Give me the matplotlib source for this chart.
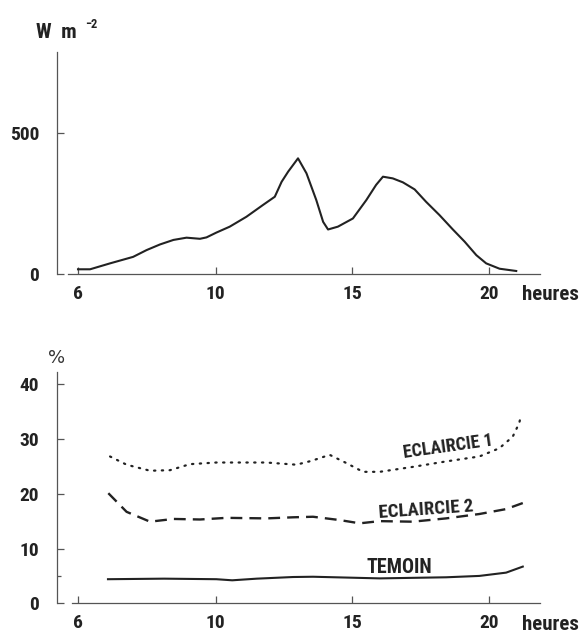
import matplotlib
matplotlib.use("Agg")
import matplotlib.pyplot as plt
import numpy as np

# --- data ----------------------------------------------------------------
# global radiation (W m-2) versus hour
rad_hours = [6.0, 6.35, 6.93, 7.6, 7.99, 8.38, 8.77, 9.15, 9.54, 9.73, 10.02,
             10.51, 11.12, 11.73, 12.16, 12.41, 12.65, 13.01, 13.32, 13.68,
             13.93, 14.11, 14.47, 15.02, 15.51, 15.87, 16.12, 16.48, 16.85,
             17.28, 17.7, 18.19, 18.68, 19.11, 19.54, 19.9, 20.39, 21.0]
rad_values = [17, 17, 38, 61, 85, 105, 121, 129, 125, 130, 147,
              168, 203, 245, 274, 327, 363, 410, 357, 262,
              185, 158, 168, 197, 262, 316, 345, 339, 325,
              300, 256, 209, 158, 115, 67, 38, 19, 11]

# transmitted fraction (%) for the three plots
ecl1_hours = [6.93, 7.41, 8.09, 8.67, 9.25, 10.02, 11.85, 12.95, 13.5, 14.17,
              14.78, 15.39, 16.0, 17.21, 18.43, 19.65, 20.38, 20.87, 21.11, 21.17]
ecl1_values = [26.8, 25.3, 24.2, 24.3, 25.4, 25.7, 25.7, 25.3, 26.0, 27.1,
               25.6, 24.0, 24.0, 24.9, 25.9, 26.8, 28.3, 30.4, 32.9, 34.2]

ecl2_hours = [6.88, 7.41, 8.09, 8.77, 9.54, 10.39, 11.85, 12.83, 13.56, 14.53,
              15.27, 16.0, 17.21, 18.43, 19.65, 20.63, 21.24]
ecl2_values = [20.1, 16.7, 14.9, 15.4, 15.3, 15.6, 15.5, 15.7, 15.8, 15.2,
               14.6, 15.0, 14.9, 15.5, 16.3, 17.2, 18.3]

tem_hours = [6.87, 8.5, 10.02, 10.6, 11.5, 12.83, 13.56, 16.0, 18.43, 19.65,
             20.63, 21.24]
tem_values = [4.4, 4.5, 4.4, 4.2, 4.5, 4.8, 4.85, 4.55, 4.75, 5.0, 5.6, 6.7]

hour_ticks = [6, 10, 15, 20]
rad_ticks = [0, 500]
pct_ticks = [0, 10, 20, 30, 40]

# the printed time axis is stretched before 10 h
K = 1.2614


def fwd(x):
    x = np.asarray(x, dtype=float)
    return np.where(x < 10, 10 - (10 - x) * K, x)


def inv(y):
    y = np.asarray(y, dtype=float)
    return np.where(y < 10, 10 - (10 - y) / K, y)


FONT = ["Roboto Condensed", "DejaVu Sans"]
WEIGHT = 800
AX_COL = "#555555"
INK = "#222222"

fig = plt.figure(figsize=(5.81, 6.33), dpi=100)
ax1 = fig.add_axes([0.0981, 0.567, 0.8313, 0.351])
ax2 = fig.add_axes([0.0981, 0.0469, 0.8313, 0.3661])


def style(ax, xstart):
    ax.set_xscale("function", functions=(fwd, inv))
    ax.set_xlim(5.39, 21.87)
    for s in ("top", "right"):
        ax.spines[s].set_visible(False)
    for s in ("left", "bottom"):
        ax.spines[s].set_color(AX_COL)
        ax.spines[s].set_linewidth(0.9)
    ax.spines["bottom"].set_bounds(xstart, 21.87)
    ax.set_xticks(hour_ticks)
    ax.set_xticklabels([str(h) for h in hour_ticks])
    ax.xaxis.set_minor_locator(matplotlib.ticker.NullLocator())
    ax.tick_params(axis="both", direction="in", color=AX_COL, width=0.9,
                   length=5, labelcolor=INK)
    ax.tick_params(axis="x", pad=8)
    ax.tick_params(axis="y", pad=13)
    for lab in ax.get_xticklabels() + ax.get_yticklabels():
        lab.set_fontfamily(FONT)
        lab.set_fontweight(WEIGHT)
        lab.set_fontsize(14)


# --- upper panel: radiation ---
ax1.plot(rad_hours, rad_values, color=INK, lw=1.5)
ax1.set_ylim(0, 787)
ax1.set_yticks(rad_ticks)
ax1.set_yticklabels([str(v) for v in rad_ticks])
style(ax1, 5.71)
fig.text(36 / 581, 1 - 33 / 633, "W  m", fontfamily=FONT, fontweight=WEIGHT,
         fontsize=15, va="center", ha="left", color=INK)
fig.text(85 / 581, 1 - 24 / 633, "\u22122", fontfamily=FONT,
         fontweight=WEIGHT, fontsize=9, va="center", ha="left", color=INK)
fig.text(522 / 581, 1 - 294 / 633, "heures", fontfamily=FONT,
         fontweight=WEIGHT, fontsize=15, va="center", ha="left", color=INK)

# --- lower panel: percentages ---
ax2.plot(ecl1_hours, ecl1_values, color=INK, lw=1.6,
         linestyle=(0, (0.6, 2.9)), dash_capstyle="round")
ax2.plot(ecl2_hours, ecl2_values, color=INK, lw=1.7,
         linestyle=(0, (5, 3)))
ax2.plot(tem_hours, tem_values, color=INK, lw=1.5)
ax2.set_ylim(0, 42.3)
ax2.set_yticks(pct_ticks)
ax2.set_yticklabels([str(v) for v in pct_ticks])
ax2.set_yticks([5], minor=True)
ax2.tick_params(axis="y", which="minor", direction="in", length=3,
                color=AX_COL, width=0.9)
style(ax2, 5.83)

ax2.text(18.52, 28.5, "ECLAIRCIE 1", fontfamily=FONT, fontweight=WEIGHT,
         fontsize=13, rotation=8, ha="center", va="center",
         rotation_mode="anchor", color=INK)
ax2.text(17.68, 17.0, "ECLAIRCIE 2", fontfamily=FONT, fontweight=WEIGHT,
         fontsize=13.5, rotation=4, ha="center", va="center",
         rotation_mode="anchor", color=INK)
ax2.text(16.73, 6.6, "TEMOIN", fontfamily=FONT, fontweight=WEIGHT,
         fontsize=14.5, ha="center", va="center", color=INK)
fig.text(57 / 581, 1 - 358 / 633, "%", fontfamily="DejaVu Sans", fontsize=13,
         va="center", ha="center", color="#333333")
fig.text(522 / 581, 1 - 625 / 633, "heures", fontfamily=FONT,
         fontweight=WEIGHT, fontsize=15, va="center", ha="left", color=INK)

fig.savefig("out.png", dpi=100)
